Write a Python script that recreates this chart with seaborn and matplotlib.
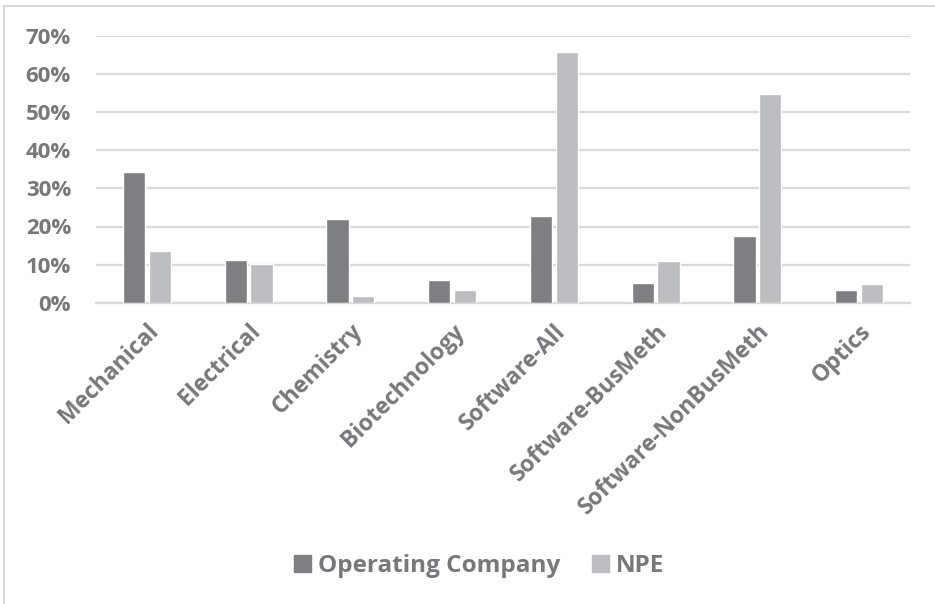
import matplotlib
matplotlib.use("Agg")
import matplotlib.pyplot as plt
import matplotlib.patches as mpatches
import seaborn as sns
import pandas as pd
from matplotlib.ticker import PercentFormatter

categories = ["Mechanical", "Electrical", "Chemistry", "Biotechnology",
              "Software-All", "Software-BusMeth", "Software-NonBusMeth", "Optics"]
operating_company = [0.344, 0.113, 0.219, 0.060, 0.227, 0.052, 0.174, 0.034]
npe = [0.136, 0.102, 0.018, 0.033, 0.657, 0.109, 0.548, 0.048]
series_names = ["Operating Company", "NPE"]
y_ticks = [0.0, 0.1, 0.2, 0.3, 0.4, 0.5, 0.6, 0.7]

df = pd.DataFrame({
    "category": categories * 2,
    "share": operating_company + npe,
    "series": [series_names[0]] * len(categories) + [series_names[1]] * len(categories),
})

sns.set_theme(style="white")
plt.rcParams["font.family"] = ["Open Sans", "DejaVu Sans"]

text_color = "#77787b"
grid_color = "#d9d9d9"
palette = {series_names[0]: "#7e7f83", series_names[1]: "#bcbdc1"}

fig = plt.figure(figsize=(9.35, 6.04), dpi=100)
ax = fig.add_axes([96 / 935, 301.3 / 604, (910 - 96) / 935, 266.7 / 604])

sns.barplot(data=df, x="category", y="share", hue="series", order=categories,
            hue_order=series_names, palette=palette, width=0.504, gap=0.13,
            saturation=1, errorbar=None, ax=ax, legend=True, zorder=3)

ax.set_ylim(0, 0.7)
ax.set_xlim(-0.5, len(categories) - 0.5)
ax.set_yticks(y_ticks)
ax.yaxis.set_major_formatter(PercentFormatter(1.0, decimals=0))
ax.grid(axis="y", color=grid_color, linewidth=1.6, zorder=0)
ax.set_axisbelow(True)
for side in ["top", "right", "left"]:
    ax.spines[side].set_visible(False)
ax.spines["bottom"].set_color(grid_color)
ax.spines["bottom"].set_linewidth(1.6)
ax.set_xlabel("")
ax.set_ylabel("")
ax.tick_params(axis="both", length=0, colors=text_color)
ax.tick_params(axis="y", pad=18)
ax.tick_params(axis="x", pad=12)
for lab in ax.get_yticklabels():
    lab.set_fontsize(16)
    lab.set_fontweight("bold")
for lab in ax.get_xticklabels():
    lab.set_fontsize(16.5)
    lab.set_fontweight("bold")
    lab.set_rotation(45)
    lab.set_ha("right")
    lab.set_rotation_mode("anchor")

ax.get_legend().remove()
handles = [mpatches.Patch(color=palette[s], label=s) for s in series_names]
leg = fig.legend(handles=handles, loc="center", bbox_to_anchor=(479 / 935, 1 - 566 / 604),
                 ncol=2, frameon=False, handlelength=0.7, handleheight=0.7,
                 handletextpad=0.3, columnspacing=1.3,
                 prop={"size": 17.5, "weight": "bold"})
for t in leg.get_texts():
    t.set_color(text_color)

# light outer frame around the chart area
frame = mpatches.Rectangle((4 / 935, -0.1), 1.2, 1 - 6 / 604 + 0.1,
                           transform=fig.transFigure, fill=False,
                           edgecolor="#d9d9d9", linewidth=1.5)
fig.patches.append(frame)

fig.savefig("out.png", dpi=100)
